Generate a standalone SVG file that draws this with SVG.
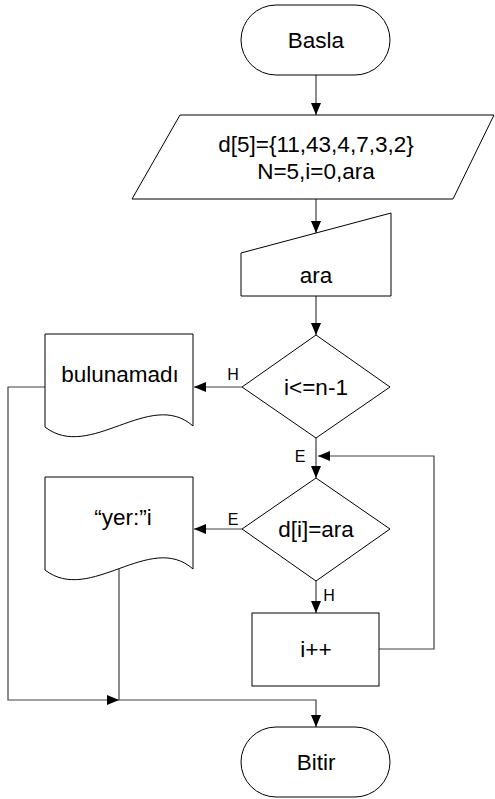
<svg xmlns="http://www.w3.org/2000/svg" width="495" height="799" viewBox="0 0 495 799">
<defs>
<style>
.shape{fill:#fff;stroke:#000;stroke-width:1}
.conn{fill:none;stroke:#404040;stroke-width:1.2}
.t{font-family:"Liberation Sans",Arial,sans-serif;font-size:22.5px;fill:#000;text-anchor:middle}
.lbl{font-family:"Liberation Sans",Arial,sans-serif;font-size:16px;fill:#000;text-anchor:middle}
</style>
<marker id="arr" markerWidth="12" markerHeight="10" refX="12" refY="5" orient="auto" markerUnits="userSpaceOnUse">
<path d="M0,0 L12,5 L0,10 Z" fill="#000"/>
</marker>
</defs>
<rect width="495" height="799" fill="#fff"/>
<g id="connectors">
<line class="conn" x1="316" y1="75" x2="316" y2="115" marker-end="url(#arr)"/>
<line class="conn" x1="316" y1="199" x2="316" y2="233" marker-end="url(#arr)"/>
<line class="conn" x1="316" y1="296" x2="316" y2="335" marker-end="url(#arr)"/>
<line class="conn" x1="242" y1="387" x2="194" y2="387" marker-end="url(#arr)"/>
<line class="conn" x1="316" y1="438" x2="316" y2="478" marker-end="url(#arr)"/>
<line class="conn" x1="242" y1="529" x2="194" y2="529" marker-end="url(#arr)"/>
<line class="conn" x1="316" y1="581" x2="316" y2="613" marker-end="url(#arr)"/>
<polyline class="conn" points="379,649 434,649 434,456 318,456" marker-end="url(#arr)"/>
<polyline class="conn" points="45,387 8,387 8,700 119,700" marker-end="url(#arr)"/>
<polyline class="conn" points="119,568 119,700 316,700 316,727" marker-end="url(#arr)"/>
<text class="lbl" x="233" y="380">H</text>
<text class="lbl" x="300" y="462">E</text>
<text class="lbl" x="233" y="525">E</text>
<text class="lbl" x="329" y="601">H</text>
</g>
<g id="basla">
<rect class="shape" x="241" y="5" width="149" height="70" rx="35" ry="35"/>
<text class="t" x="316" y="48">Basla</text>
</g>
<g id="init">
<polygon class="shape" points="180,115 494,115 453,199 132,199"/>
<text class="t" x="316" y="152">d[5]={11,43,4,7,3,2}</text>
<text class="t" x="316" y="179">N=5,i=0,ara</text>
</g>
<g id="input">
<polygon class="shape" points="241,253 391,213 391,296 241,296"/>
<text class="t" x="316" y="283">ara</text>
</g>
<g id="cond1">
<polygon class="shape" points="316,335 390,387 316,438 242,387"/>
<text class="t" x="316" y="395">i&lt;=n-1</text>
</g>
<g id="bulunamadi">
<path class="shape" d="M45,334 H193 V426 C150,388 90,462 45,427 Z"/>
<text class="t" x="120" y="382">bulunamadı</text>
</g>
<g id="cond2">
<polygon class="shape" points="316,478 390,529 316,581 242,529"/>
<text class="t" x="316" y="537">d[i]=ara</text>
</g>
<g id="yer">
<path class="shape" d="M45,477 H193 V569 C150,531 90,605 45,570 Z"/>
<text class="t" x="123" y="525">“yer:”i</text>
</g>
<g id="inc">
<rect class="shape" x="252" y="613" width="127" height="73"/>
<text class="t" x="316" y="657">i++</text>
</g>
<g id="bitir">
<rect class="shape" x="241" y="727" width="149" height="70" rx="35" ry="35"/>
<text class="t" x="316" y="770">Bitir</text>
</g>
</svg>
